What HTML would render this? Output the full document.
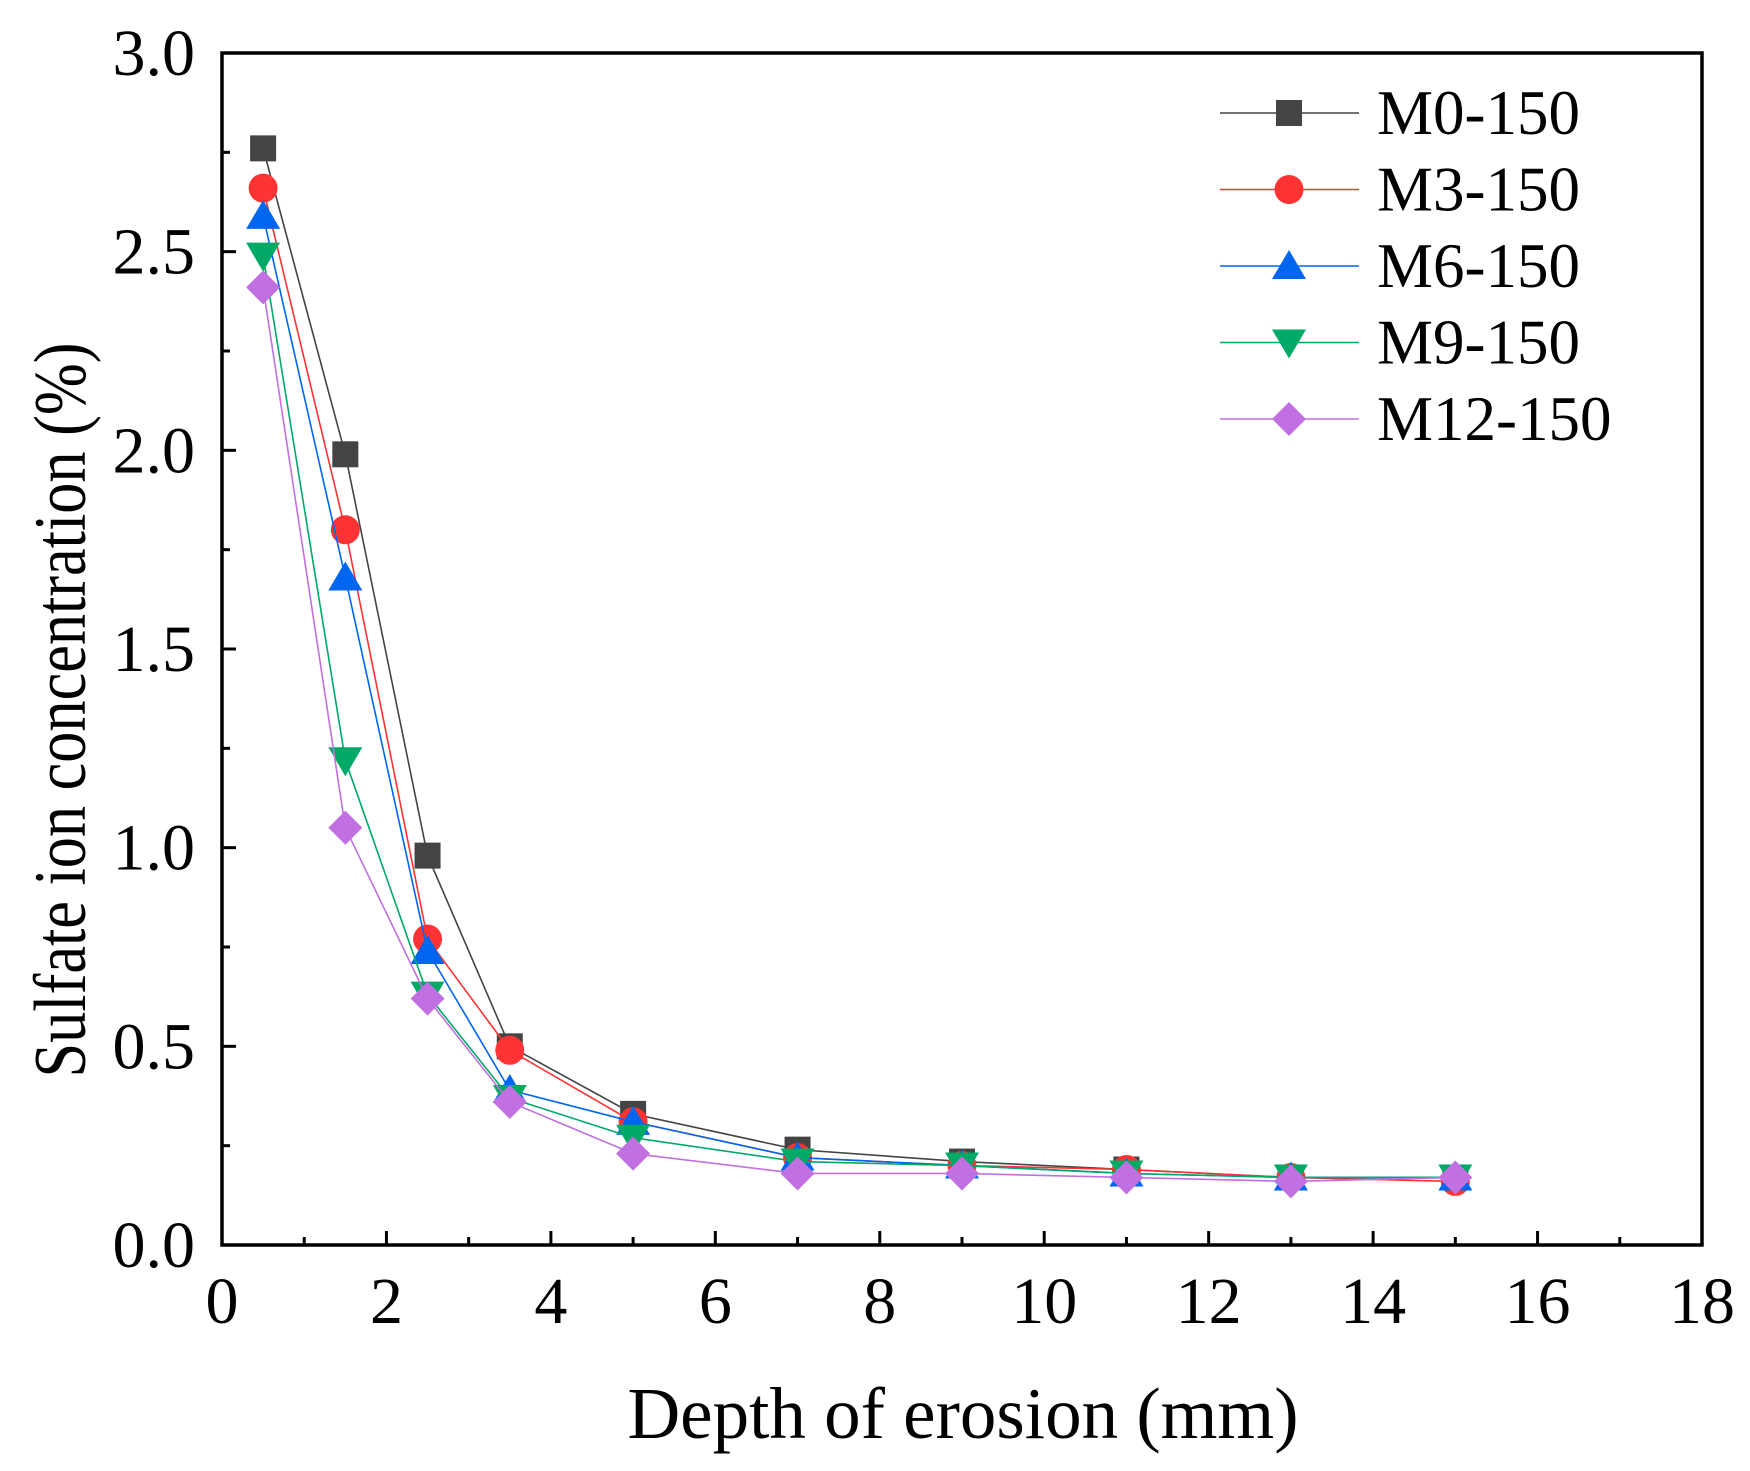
<!DOCTYPE html>
<html><head><meta charset="utf-8"><style>
html,body{margin:0;padding:0;background:#fff;}
svg text{font-family:"Liberation Serif",serif;fill:#000;}
</style></head><body>
<svg id="chart" width="1750" height="1466" xmlns="http://www.w3.org/2000/svg"></svg>
<script>
const xValues=[0.5,1.5,2.5,3.5,5,7,9,11,13,15];
const seriesNames=["M0-150","M3-150","M6-150","M9-150","M12-150"];
const m0=[2.76,1.99,0.98,0.50,0.33,0.24,0.21,0.19,0.17,0.17];
const m3=[2.66,1.80,0.77,0.49,0.31,0.22,0.20,0.19,0.17,0.16];
const m6=[2.59,1.68,0.74,0.39,0.31,0.22,0.20,0.18,0.17,0.17];
const m9=[2.49,1.22,0.63,0.37,0.27,0.21,0.20,0.18,0.17,0.17];
const m12=[2.41,1.05,0.62,0.36,0.23,0.18,0.18,0.17,0.16,0.17];
const xTicks=[0,2,4,6,8,10,12,14,16,18];
const yTicks=["0.0","0.5","1.0","1.5","2.0","2.5","3.0"];

const NS="http://www.w3.org/2000/svg";
const svg=document.getElementById('chart');
const L=222,R=1702,T=53,B=1245;
const X=v=>L+(v/18)*(R-L);
const Y=v=>B-(v/3)*(B-T);
function mk(tag,a,parent){const e=document.createElementNS(NS,tag);for(const k in a)e.setAttribute(k,a[k]);(parent||svg).appendChild(e);return e;}

const colors=["#444444","#ff3333","#0066ee","#00aa66","#c070e0"];
const lineColors=["#444444","#ff3333","#0066ee","#00aa66","#c070e0"];
const shapes=["square","circle","up","down","diamond"];
const allSeries=[m0,m3,m6,m9,m12];

function marker(shape,cx,cy,color,parent){
  const s=13;let e;
  if(shape==="square")e=mk('rect',{x:cx-s,y:cy-s,width:2*s,height:2*s,fill:color},parent);
  else if(shape==="circle")e=mk('circle',{cx:cx,cy:cy,r:14.5,fill:color},parent);
  else if(shape==="up")e=mk('polygon',{points:`${cx},${cy-16} ${cx+17},${cy+13} ${cx-17},${cy+13}`,fill:color},parent);
  else if(shape==="down")e=mk('polygon',{points:`${cx},${cy+16} ${cx+17},${cy-13} ${cx-17},${cy-13}`,fill:color},parent);
  else e=mk('polygon',{points:`${cx},${cy-17} ${cx+17},${cy} ${cx},${cy+17} ${cx-17},${cy}`,fill:color},parent);
  return e;
}

allSeries.forEach((vals,i)=>{
  const g=mk('g',{});
  
  
  const pts=vals.map((v,j)=>X(xValues[j])+','+Y(v)).join(' ');
  const pl=mk('polyline',{points:pts,fill:'none',stroke:lineColors[i],'stroke-width':1.6},g);
  
  
  vals.forEach((v,j)=>{
    const m=marker(shapes[i],X(xValues[j]),Y(v),colors[i],g);
    
    
  });
});

const frame=mk('rect',{x:L,y:T,width:R-L,height:B-T,fill:'none',stroke:'#000','stroke-width':3.5});



for(let v=0;v<=18;v+=1){
  const major=v%2===0;
  const t=mk('line',{x1:X(v),x2:X(v),y1:B,y2:B-(major?14:8),stroke:'#000','stroke-width':3});
  
  
}
xTicks.forEach(v=>{
  const t=mk('text',{x:X(v),y:1323,'font-size':66,'text-anchor':'middle'});
  t.textContent=v;
  
  
});
for(let k=0;k<=12;k++){
  const v=k*0.25;const major=k%2===0;
  const t=mk('line',{x1:L,x2:L+(major?14:8),y1:Y(v),y2:Y(v),stroke:'#000','stroke-width':3});
  
  
}
yTicks.forEach(s=>{
  const t=mk('text',{x:195,y:Y(parseFloat(s))+22,'font-size':66,'text-anchor':'end'});
  t.textContent=s;
  
  
});
const xt=mk('text',{x:963,y:1438,'font-size':73,'text-anchor':'middle'});
xt.textContent='Depth of erosion (mm)';


const yt=mk('text',{x:0,y:0,'font-size':74,'text-anchor':'middle',textLength:735,lengthAdjust:'spacingAndGlyphs',transform:'translate(85,710) rotate(-90)'});
yt.textContent='Sulfate ion concentration (%)';



const ly=[113,189.5,266,342.5,419];
seriesNames.forEach((n,i)=>{
  const g=mk('g',{});
  
  
  mk('line',{x1:1220,x2:1359,y1:ly[i],y2:ly[i],stroke:lineColors[i],'stroke-width':1.6},g);
  marker(shapes[i],1289,ly[i],colors[i],g);
  const t=mk('text',{x:1377,y:ly[i]+21,'font-size':63},g);
  t.textContent=n;
});
</script>
</body></html>
